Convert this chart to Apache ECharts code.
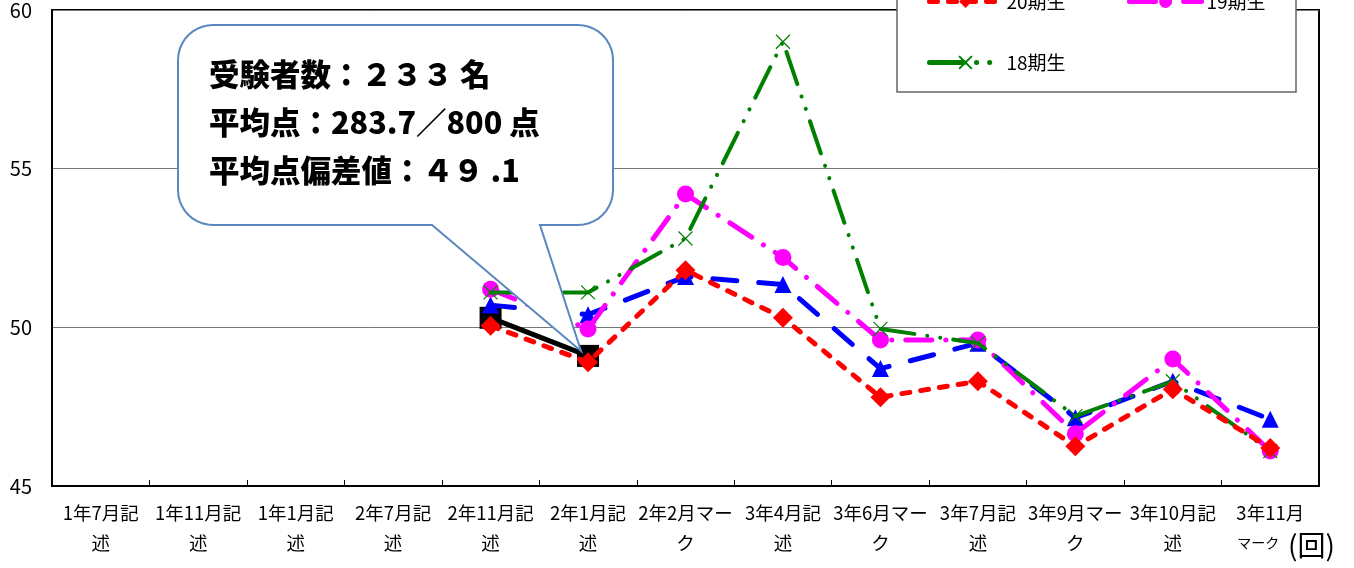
<!DOCTYPE html>
<html><head><meta charset="utf-8">
<script src="https://cdn.jsdelivr.net/npm/echarts@6/dist/echarts.min.js"></script>
<style>html,body{margin:0;padding:0;background:#fff}#c{width:1354px;height:568px}</style>
</head><body><div id="c"></div>
<script>
const categories = ['1年7月記\n述','1年11月記\n述','1年1月記\n述','2年7月記\n述','2年11月記\n述','2年1月記\n述','2年2月マー\nク','3年4月記\n述','3年6月マー\nク','3年7月記\n述','3年9月マー\nク','3年10月記\n述','3年11月\nマーク'];
const yTicks = [45, 50, 55, 60];
const s22 = [null,null,null,null,50.3,49.1,null,null,null,null,null,null,null];
const s21 = [null,null,null,null,50.7,50.4,51.6,51.35,48.7,49.5,47.15,48.3,47.1];
const s20 = [null,null,null,null,50.05,48.9,51.8,50.3,47.8,48.3,46.25,48.05,46.2];
const s19 = [null,null,null,null,51.2,49.95,54.2,52.2,49.6,49.6,46.65,49.0,46.1];
const s18 = [null,null,null,null,51.1,51.1,52.8,59.0,49.95,49.5,47.2,48.3,46.1];
const calloutLines = ['受験者数：２３３ 名','平均点：283.7／800 点','平均点偏差値：４９ .1'];

const font = '"Noto Sans CJK JP", "Noto Sans", sans-serif';
const cross = 'path://M0,0L10,10M10,0L0,10';
const chart = echarts.init(document.getElementById('c'));
function legendAt(name, left, top){
  return {data:[name], left:left, top:top, itemWidth:72, itemHeight:16, itemGap:5, z:200,
    lineStyle:{width:5},
    textStyle:{fontFamily:font, fontSize:19, color:'#000'}, selectedMode:false};
}
chart.setOption({
  animation:false,
  backgroundColor:'#fff',
  grid:{left:52, right:35, top:8, bottom:82, show:true, borderColor:'#000', borderWidth:2, backgroundColor:'transparent'},
  xAxis:{type:'category', data:categories, boundaryGap:true,
    axisLine:{lineStyle:{color:'#000', width:2}},
    axisTick:{show:true, alignWithLabel:false, length:-6, lineStyle:{color:'#000'}},
    axisLabel:{interval:0, color:'#000', fontFamily:font, fontSize:18.5, lineHeight:30, margin:12,
      formatter:function(v, i){
        if (i === categories.length - 1){
          const parts = v.split('\n');
          return parts[0] + '\n{s|' + parts[1] + '}';
        }
        return v;
      },
      rich:{s:{fontFamily:font, fontSize:14, color:'#000', padding:[0,24,0,0], lineHeight:30}}}},
  yAxis:{type:'value', min:yTicks[0], max:yTicks[yTicks.length-1], interval:5,
    axisLine:{show:true, lineStyle:{color:'#000', width:2}},
    axisTick:{show:false},
    splitLine:{lineStyle:{color:'#777', width:1}},
    axisLabel:{color:'#000', fontFamily:font, fontSize:20, margin:20}},
  legend:[
    legendAt('20期生', 922, -13),
    legendAt('19期生', 1122, -13),
    legendAt('18期生', 922, 48)
  ],
  series:[
    {name:'22期生', type:'line', data:s22, symbol:'rect', symbolSize:22, z:3,
      itemStyle:{color:'#000'}, lineStyle:{color:'#000', width:5}},
    {name:'21期生', type:'line', data:s21, symbol:'triangle', symbolSize:17, z:4,
      itemStyle:{color:'#0000ff'}, lineStyle:{color:'#0000ff', width:5, type:[24,22], cap:'round'}},
    {name:'19期生', type:'line', data:s19, symbol:'circle', symbolSize:17, z:5,
      itemStyle:{color:'#ff00ff'}, lineStyle:{color:'#ff00ff', width:5, type:[26,14,0.1,14], cap:'round'}},
    {name:'18期生', type:'line', data:s18, symbol:cross, symbolSize:14, z:6,
      itemStyle:{color:'none', borderColor:'#008000', borderWidth:1.2}, lineStyle:{color:'#008000', width:4, type:[34,13,0.1,13,0.1,13], cap:'round'}},
    {name:'20期生', type:'line', data:s20, symbol:'diamond', symbolSize:20, z:7,
      itemStyle:{color:'#ff0000'}, lineStyle:{color:'#ff0000', width:5, type:[8,11], cap:'round'}}
  ]
});
// callout pointing at the last value of the black series
const tip = chart.convertToPixel({xAxisIndex:0, yAxisIndex:0}, [5, s22[5]]);
const tx = Math.round(tip[0]) - 7, ty = Math.round(tip[1]) - 5;
function arc(pts, cx, cy, r, a0, a1){
  const n = 10;
  for (let k = 0; k <= n; k++){
    const a = a0 + (a1 - a0) * k / n;
    pts.push([cx + r * Math.cos(a), cy + r * Math.sin(a)]);
  }
}
const L = 178, T = 25, R = 613, B = 225, rr = 35, PI = Math.PI;
const pts = [];
arc(pts, L + rr, T + rr, rr, PI, 1.5 * PI);
arc(pts, R - rr, T + rr, rr, 1.5 * PI, 2 * PI);
arc(pts, R - rr, B - rr, rr, 0, 0.5 * PI);
pts.push([540, B], [tx, ty], [432, B]);
arc(pts, L + rr, B - rr, rr, 0.5 * PI, PI);
const graphics = [
  {type:'rect', z:100, shape:{x:897, y:-20, width:399, height:112}, style:{fill:'#fff', stroke:'#666', lineWidth:1.5}},
  {type:'polygon', z:100, shape:{points:pts}, style:{fill:'#fff', stroke:'#5b87c0', lineWidth:2}},
  {type:'text', z:101, left:1288, top:531, style:{text:'(回)', fontFamily:font, fontSize:28, fill:'#000'}}
];
calloutLines.forEach((t,i)=>{
  graphics.push({type:'text', z:101, left:209, top:59 + i*48, style:{text:t, fontFamily:font, fontSize:30.5, fontWeight:900, fill:'#000'}});
});
chart.setOption({graphic:graphics});
</script>
</body></html>
